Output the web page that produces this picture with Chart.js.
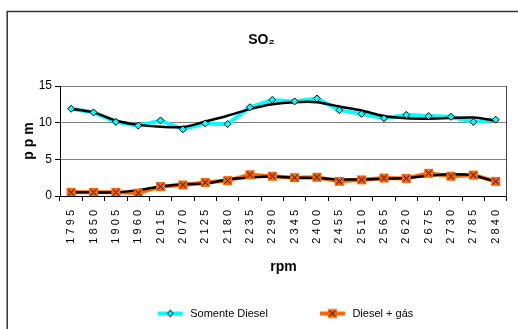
<!DOCTYPE html>
<html>
<head>
<meta charset="utf-8">
<script src="https://cdn.jsdelivr.net/npm/chart.js@4.4.1/dist/chart.umd.min.js"></script>
<style>
  html, body { margin: 0; padding: 0; background: #fff; }
  canvas { display: block; }
</style>
</head>
<body>
<canvas id="so2Chart" width="518" height="329"></canvas>
<script>
// valores
const rpm = ['1795', '1850', '1905', '1960', '2015', '2070', '2125', '2180', '2235', '2290',
             '2345', '2400', '2455', '2510', '2565', '2620', '2675', '2730', '2785', '2840'];
const somenteDiesel = [11.9, 11.4, 10.1, 9.6, 10.3, 9.1, 9.9, 9.8, 12.1, 13.1,
                       12.9, 13.3, 11.7, 11.2, 10.6, 11.05, 10.9, 10.8, 10.1, 10.4];
const dieselGas = [0.5, 0.5, 0.5, 0.4, 1.3, 1.5, 1.85, 2.1, 2.9, 2.7,
                   2.5, 2.55, 2.0, 2.2, 2.45, 2.4, 3.1, 2.7, 2.85, 2.0];
// linhas de tendência (pretas)
const tendDiesel = [11.9, 11.4, 10.3, 9.7, 9.45, 9.4, 10.15, 10.95, 11.85, 12.5,
                    12.8, 12.8, 12.2, 11.65, 10.9, 10.6, 10.55, 10.65, 10.7, 10.3];
const tendDieselGas = [0.5, 0.5, 0.5, 0.8, 1.3, 1.6, 1.7, 2.25, 2.5, 2.65,
                       2.5, 2.45, 2.25, 2.25, 2.35, 2.45, 2.75, 2.95, 2.8, 1.95];
const yTicks = [0, 5, 10, 15];

const CIANO = '#00FFFF';
const LARANJA = '#FF6600';
const FONTE = "'Liberation Sans', Arial, sans-serif";

// marcador quadrado laranja com X
function marcadorQuadrado(g, cx, cy) {
  g.fillStyle = LARANJA;
  g.fillRect(cx - 4.5, cy - 4.5, 9, 9);
  g.strokeStyle = '#000';
  g.lineWidth = 1;
  g.beginPath();
  g.moveTo(cx - 3, cy - 3); g.lineTo(cx + 3, cy + 3);
  g.moveTo(cx + 3, cy - 3); g.lineTo(cx - 3, cy + 3);
  g.stroke();
}

function marcadorLosango(g, cx, cy) {
  g.fillStyle = CIANO;
  g.strokeStyle = '#000';
  g.lineWidth = 1;
  g.beginPath();
  g.moveTo(cx, cy - 3.5); g.lineTo(cx + 2.8, cy);
  g.lineTo(cx, cy + 3.5); g.lineTo(cx - 2.8, cy);
  g.closePath();
  g.fill(); g.stroke();
}

function imagemPonto() {
  const c = document.createElement('canvas');
  c.width = 11; c.height = 11;
  marcadorQuadrado(c.getContext('2d'), 5.5, 5.5);
  return c;
}

// ícone da legenda: linha + marcador, encostado à direita
function iconeLegenda(cor, marcador) {
  const c = document.createElement('canvas');
  c.width = 75; c.height = 12;
  const g = c.getContext('2d');
  const x0 = 48, x1 = 73, cy = 6;
  g.strokeStyle = cor;
  g.lineWidth = 4;
  g.beginPath(); g.moveTo(x0, cy); g.lineTo(x1, cy); g.stroke();
  marcador(g, (x0 + x1) / 2, cy);
  return c;
}

const moldura = {
  id: 'moldura',
  beforeDraw(chart) {
    const ctx = chart.ctx;
    ctx.save();
    ctx.fillStyle = '#fff';
    ctx.fillRect(0, 0, chart.width, chart.height);
    ctx.strokeStyle = '#333';
    ctx.lineWidth = 1.5;
    ctx.strokeRect(7.2, 11.5, chart.width + 20, chart.height + 20);
    ctx.restore();
  }
};

const pontoGas = imagemPonto();
const iconeDiesel = iconeLegenda(CIANO, marcadorLosango);
const iconeGas = iconeLegenda(LARANJA, marcadorQuadrado);

const data = {
  labels: rpm,
  datasets: [
    { label: 'Somente Diesel', data: somenteDiesel, showLine: false, order: 0,
      pointStyle: 'rectRot', pointRadius: 3.5, pointBackgroundColor: CIANO,
      pointBorderColor: '#000', pointBorderWidth: 1 },
    { label: 'Diesel + gás', data: dieselGas, showLine: false, order: 1,
      pointStyle: pontoGas },
    { label: 'tend1', data: tendDiesel, order: 2, borderColor: '#000', borderWidth: 2.5,
      pointRadius: 0, tension: 0.3 },
    { label: 'tend2', data: tendDieselGas, order: 3, borderColor: '#000', borderWidth: 2.5,
      pointRadius: 0, tension: 0.3 },
    { label: 'linha1', data: somenteDiesel, order: 4, borderColor: CIANO, borderWidth: 4,
      pointRadius: 0, tension: 0 },
    { label: 'linha2', data: dieselGas, order: 5, borderColor: LARANJA, borderWidth: 4,
      pointRadius: 0, tension: 0 }
  ]
};

const config = {
  type: 'line',
  data: data,
  plugins: [moldura],
  options: {
    responsive: false,
    animation: false,
    devicePixelRatio: 1,
    layout: { padding: { left: 8, right: 3, top: 0, bottom: 0 } },
    plugins: {
      tooltip: { enabled: false },
      title: {
        display: true,
        text: 'SO₂',
        color: '#000',
        font: { family: FONTE, size: 14, weight: 'bold' },
        padding: { top: 32, bottom: 37.2 }
      },
      legend: {
        position: 'bottom',
        onClick: null,
        labels: {
          usePointStyle: true,
          pointStyleWidth: 75,
          padding: 4,
          color: '#000',
          font: { family: FONTE, size: 11 },
          generateLabels: () => [
            { text: 'Somente Diesel', pointStyle: iconeDiesel, datasetIndex: 0,
              fillStyle: 'transparent', strokeStyle: 'transparent', lineWidth: 0, hidden: false },
            { text: 'Diesel + gás', pointStyle: iconeGas, datasetIndex: 1,
              fillStyle: 'transparent', strokeStyle: 'transparent', lineWidth: 0, hidden: false }
          ]
        }
      }
    },
    scales: {
      x: {
        offset: true,
        afterFit: s => { s.height = 108; },
        title: {
          display: true, text: 'rpm', color: '#000',
          font: { family: FONTE, size: 14, weight: 'bold' },
          padding: { top: 0, bottom: 28.6 }
        },
        grid: { offset: true, drawOnChartArea: false, tickLength: 5, tickColor: '#000' },
        border: { color: '#000' },
        ticks: {
          autoSkip: false, maxRotation: 90, minRotation: 90, padding: 9,
          color: '#000', font: { family: FONTE, size: 11 },
          callback: function (v) { return this.getLabelForValue(v).split('').join(' '); }
        }
      },
      y: {
        min: 0, max: 15,
        afterFit: s => { s.width = 52; },
        afterBuildTicks: s => { s.ticks = yTicks.map(v => ({ value: v })); },
        title: {
          display: true, text: 'p p m', color: '#000',
          font: { family: FONTE, size: 14, weight: 'bold' },
          padding: { top: 12.6, bottom: 0 }
        },
        grid: { color: '#808080', tickLength: 5, tickColor: '#000' },
        border: { color: '#000' },
        ticks: { color: '#000', padding: 3, font: { family: FONTE, size: 12 } }
      },
      y2: {
        position: 'right',
        afterFit: s => { s.width = 0; },
        ticks: { display: false },
        grid: { drawOnChartArea: false, drawTicks: false },
        border: { color: '#404040' }
      }
    }
  }
};

new Chart(document.getElementById('so2Chart').getContext('2d'), config);
</script>
</body>
</html>
